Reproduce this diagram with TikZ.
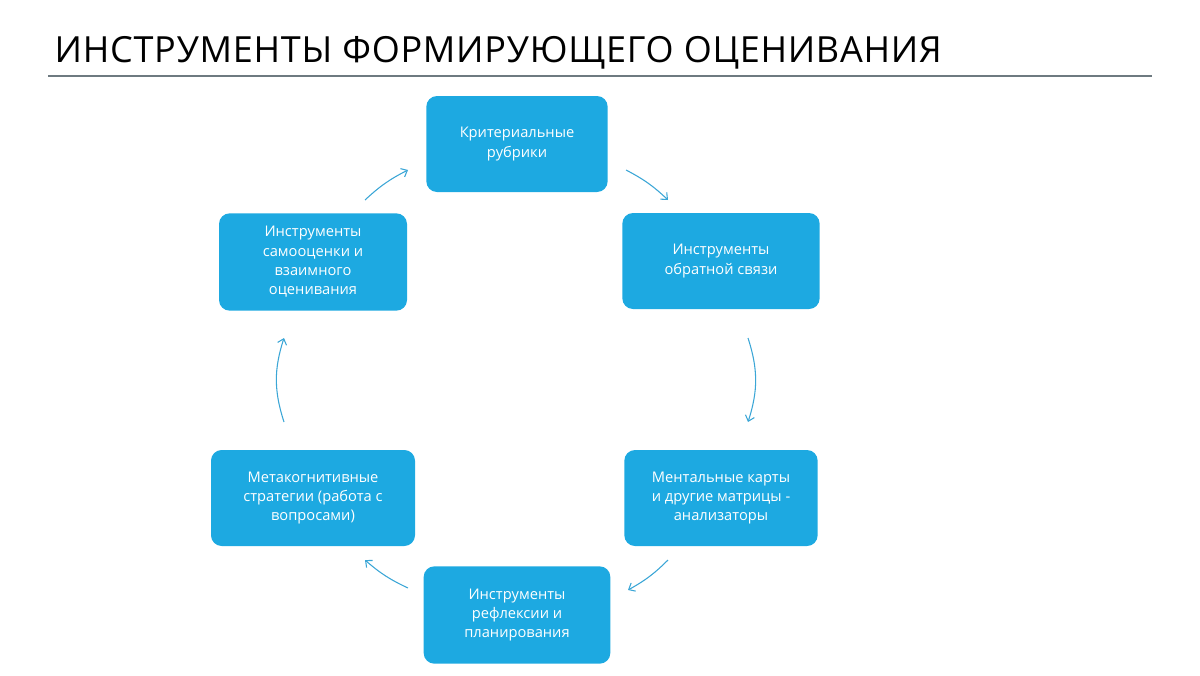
\documentclass[tikz,border=0pt]{standalone}
\usepackage{fontspec}
\setmainfont{Open Sans}
\usetikzlibrary{arrows.meta}
\definecolor{boxblue}{HTML}{1DA9E1}
\definecolor{arrblue}{HTML}{3BA6D6}
\definecolor{rulegray}{HTML}{6E7A80}
\begin{document}
\begin{tikzpicture}[x=0.75pt,y=-0.75pt,
  box/.style={fill=boxblue,rounded corners=8pt,text=white,align=center,font=\fontsize{11}{14.5}\selectfont,inner sep=0pt},
  arr/.style={draw=arrblue,line width=0.8pt,-{Straight Barb[length=4pt,width=7pt]}}]
\useasboundingbox (0,0) rectangle (1200,675);
\node[anchor=base west,font=\fontsize{27}{30}\selectfont\addfontfeature{LetterSpace=2}] (title) at (50,62) {ИНСТРУМЕНТЫ ФОРМИРУЮЩЕГО ОЦЕНИВАНИЯ};
\draw[rulegray,line width=1.5pt] (48,76) -- (1152,76);
\node[box,minimum width=136pt,minimum height=72pt] (b1) at (517,144) {Критериальные\\рубрики};
\node[box,minimum width=148pt,minimum height=72pt] (b2) at (721,261) {Инструменты\\обратной связи};
\node[box,minimum width=145pt,minimum height=72pt] (b3) at (721,498) {Ментальные карты\\и другие матрицы -\\анализаторы};
\node[box,minimum width=140pt,minimum height=73pt] (b4) at (517,615) {Инструменты\\рефлексии и\\планирования};
\node[box,minimum width=153pt,minimum height=72pt] (b5) at (313,498) {Метакогнитивные\\стратегии (работа с\\вопросами)};
\node[box,minimum width=141pt,minimum height=73pt] (b6) at (313,262) {Инструменты\\самооценки и\\взаимного\\оценивания};
\coordinate (a1s) at (365,200); \coordinate (a1e) at (408,170);
\coordinate (a2s) at (626,170); \coordinate (a2e) at (668,200);
\coordinate (a3s) at (748,338); \coordinate (a3e) at (748,422);
\coordinate (a4s) at (668,560); \coordinate (a4e) at (628,590);
\coordinate (a5s) at (408,588); \coordinate (a5e) at (365,560);
\coordinate (a6s) at (284,422); \coordinate (a6e) at (284,338);
\draw[arr] (a1s) to[bend left=8] (a1e);
\draw[arr] (a2s) to[bend left=8] (a2e);
\draw[arr] (a3s) to[bend left=18] (a3e);
\draw[arr] (a4s) to[bend left=8] (a4e);
\draw[arr] (a5s) to[bend left=8] (a5e);
\draw[arr] (a6s) to[bend left=18] (a6e);
\end{tikzpicture}
\end{document}
